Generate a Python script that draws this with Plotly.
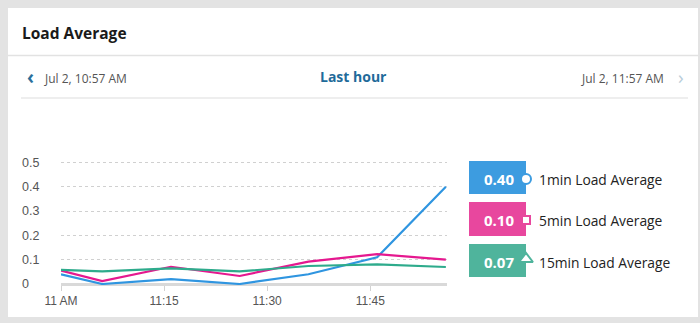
import plotly.graph_objects as go

# ---------------- data ----------------
times = ["2019-07-02 11:00", "2019-07-02 11:06", "2019-07-02 11:16", "2019-07-02 11:26",
         "2019-07-02 11:36", "2019-07-02 11:46", "2019-07-02 11:56"]
load_1min = [0.04, 0.00, 0.02, 0.00, 0.04, 0.11, 0.40]
load_5min = [0.055, 0.012, 0.071, 0.033, 0.092, 0.123, 0.10]
load_15min = [0.058, 0.052, 0.064, 0.052, 0.074, 0.081, 0.07]
series_names = ["1min Load Average", "5min Load Average", "15min Load Average"]
x_tick_vals = ["2019-07-02 11:00", "2019-07-02 11:15", "2019-07-02 11:30", "2019-07-02 11:45"]
x_tick_text = ["11 AM", "11:15", "11:30", "11:45"]
y_tick_vals = [0, 0.1, 0.2, 0.3, 0.4, 0.5]
y_tick_text = ["0", "0.1", "0.2", "0.3", "0.4", "0.5"]
title_text = "Load Average"
range_start = "Jul 2, 10:57 AM"
range_end = "Jul 2, 11:57 AM"
range_label = "Last hour"

W, H = 700, 323
def fx(x): return x / W
def fy(y): return 1 - y / H

line_colors = ["#2f95e0", "#e5188f", "#2eab8c"]
box_colors = ["#3d9ce0", "#e8479e", "#4fb49c"]
symbols = ["circle", "square", "triangle-up"]
marker_sizes = [10, 8, 12]

fig = go.Figure()
for vals, name, col in zip([load_1min, load_5min, load_15min], series_names, line_colors):
    fig.add_trace(go.Scatter(x=times, y=vals, mode="lines", name=name,
                             line=dict(color=col, width=2.2), xaxis="x", yaxis="y",
                             hoverinfo="skip"))

# legend marker overlay (pixel-space axes)
leg_y = [179, 220, 259]
fig.add_trace(go.Scatter(x=[526, 526, 526], y=leg_y, mode="markers", xaxis="x2", yaxis="y2",
                         cliponaxis=False,
                         marker=dict(symbol=symbols, size=marker_sizes, color="white", opacity=1,
                                     line=dict(color=box_colors, width=2)),
                         hoverinfo="skip", showlegend=False))

shapes = []
# white card
shapes.append(dict(type="rect", xref="paper", yref="paper", x0=fx(8), x1=fx(698), y0=fy(317), y1=fy(8),
                   fillcolor="white", line=dict(width=0), layer="below"))
# header divider
shapes.append(dict(type="line", xref="paper", yref="paper", x0=fx(8), x1=fx(698), y0=fy(55.5), y1=fy(55.5),
                   line=dict(color="#e2e2e2", width=1.5), layer="below"))
# nav divider
shapes.append(dict(type="line", xref="paper", yref="paper", x0=fx(21), x1=fx(688), y0=fy(98), y1=fy(98),
                   line=dict(color="#dedede", width=1.2), layer="below"))
# legend boxes
box_y = [(161, 194), (202, 236), (244, 277)]
for (y0, y1), col in zip(box_y, box_colors):
    shapes.append(dict(type="rect", xref="paper", yref="paper", x0=fx(469), x1=fx(526), y0=fy(y1), y1=fy(y0),
                       fillcolor=col, line=dict(width=0), layer="below"))

annotations = []
annotations.append(dict(text=title_text, x=fx(20), y=fy(33), xref="paper", yref="paper", xanchor="left",
                        yanchor="middle", showarrow=False,
                        font=dict(family="Open Sans", size=15.5, color="#1a1a1a", weight="bold")))
annotations.append(dict(text="‹", x=fx(25), y=fy(77), xref="paper", yref="paper", xanchor="left",
                        yanchor="middle", showarrow=False,
                        font=dict(family="Open Sans", size=19, color="#2a6f9b", weight="bold")))
annotations.append(dict(text=range_start, x=fx(42), y=fy(78), xref="paper", yref="paper", xanchor="left",
                        yanchor="middle", showarrow=False,
                        font=dict(family="Open Sans", size=12, color="#555555")))
annotations.append(dict(text=range_label, x=fx(354), y=fy(77), xref="paper", yref="paper", xanchor="center",
                        yanchor="middle", showarrow=False,
                        font=dict(family="Open Sans", size=14, color="#1f6b9a", weight="bold")))
annotations.append(dict(text=range_end, x=fx(666), y=fy(78), xref="paper", yref="paper", xanchor="right",
                        yanchor="middle", showarrow=False,
                        font=dict(family="Open Sans", size=12, color="#555555")))
annotations.append(dict(text="›", x=fx(676), y=fy(77), xref="paper", yref="paper", xanchor="left",
                        yanchor="middle", showarrow=False,
                        font=dict(family="Open Sans", size=19, color="#b8cdd9")))

for vals, name, (y0, y1) in zip([load_1min, load_5min, load_15min], series_names, box_y):
    cy = (y0 + y1) / 2
    annotations.append(dict(text=f"{vals[-1]:.2f}", x=fx(516), y=fy(cy + 1), xref="paper", yref="paper",
                            xanchor="right", yanchor="middle", showarrow=False,
                            font=dict(family="Open Sans", size=15, color="white", weight="bold")))
    annotations.append(dict(text=name, x=fx(537), y=fy(cy + 1.5), xref="paper", yref="paper",
                            xanchor="left", yanchor="middle", showarrow=False,
                            font=dict(family="Open Sans", size=13.8, color="#222222")))

fig.update_layout(
    width=W, height=H, margin=dict(l=0, r=0, t=0, b=0, autoexpand=False),
    paper_bgcolor="#e3e3e3", plot_bgcolor="rgba(0,0,0,0)",
    showlegend=False, shapes=shapes, annotations=annotations,
    xaxis=dict(type="date", domain=[fx(61), fx(447)],
               range=["2019-07-02 11:00", "2019-07-02 11:56:10"],
               tickvals=x_tick_vals, ticktext=x_tick_text, ticks="outside", ticklen=5,
               tickcolor="#d2d2d2", tickwidth=1, showgrid=False, showline=False, zeroline=False,
               tickfont=dict(family="Liberation Sans", size=12, color="#555555"), anchor="y",
               automargin=False, fixedrange=True),
    yaxis=dict(domain=[1 - 284.97 / H, 1 - 157.64 / H], range=[-0.004, 0.52],
               anchor="free", position=fx(18), side="left", ticklabelposition="inside",
               ticklabeloverflow="allow",
               tickvals=y_tick_vals, ticktext=y_tick_text, ticks="",
               showgrid=True, griddash="dot", gridcolor="#d0d0d0", gridwidth=1,
               zeroline=True, zerolinecolor="#d9d9d9", zerolinewidth=3, showline=False,
               tickfont=dict(family="Liberation Sans", size=12.5, color="#555555"),
               automargin=False, fixedrange=True),
    xaxis2=dict(domain=[0, 1], range=[0, W], visible=False, anchor="y2", fixedrange=True, automargin=False),
    yaxis2=dict(domain=[0, 1], range=[H, 0], visible=False, anchor="x2", fixedrange=True, automargin=False),
)

fig.write_html("out.html", config={"displayModeBar": False})
